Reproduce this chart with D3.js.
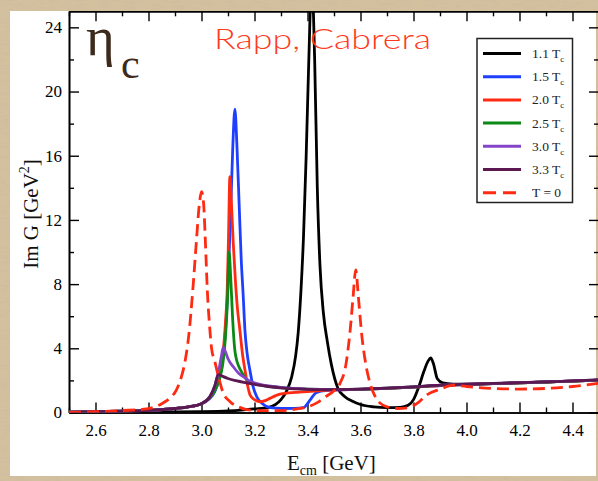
<!DOCTYPE html>
<html>
<head>
<meta charset="utf-8">
<script src="https://cdn.jsdelivr.net/npm/d3@7"></script>
<style>
  body { margin: 0; background: #fff; }
  svg { display: block; }
</style>
</head>
<body>
<div id="graph"></div>
<script>
// series: [E (GeV), Im G (GeV^2)]
var black11 = [[2.5,0.0],[2.7,0.01],[2.9,0.03],[3.0,0.05],[3.1,0.1],[3.15,0.15],[3.2,0.22],[3.25,0.3],[3.28,0.5],[3.3,0.8],
    [3.32,1.3],[3.34,2.2],[3.355,3.5],[3.365,5.0],[3.375,7.5],[3.385,11],[3.395,16],[3.405,22],[3.416,27],[3.427,22],
    [3.437,14],[3.447,9.2],[3.46,6.2],[3.475,4.4],[3.49,3.0],[3.515,1.5],[3.54,1.0],[3.57,0.7],[3.6,0.5],[3.65,0.35],
    [3.7,0.3],[3.75,0.32],[3.78,0.45],[3.8,0.8],[3.82,1.6],[3.84,2.6],[3.855,3.2],[3.865,3.4],[3.875,3.05],[3.89,2.1],
    [3.91,1.85],[3.95,1.77],[4.0,1.76],[4.1,1.8],[4.2,1.85],[4.3,1.9],[4.4,1.96],[4.5,2.02]];
var blue15 = [[2.5,0.02],[2.6,0.05],[2.7,0.08],[2.8,0.13],[2.9,0.25],[2.95,0.35],[3.0,0.55],[3.03,0.85],[3.05,1.3],[3.065,2.0],
    [3.08,3.2],[3.09,5.0],[3.1,8.0],[3.11,12.5],[3.118,16.5],[3.126,18.9],[3.134,16.5],[3.142,13.0],[3.15,9.5],[3.157,7.4],
    [3.164,5.1],[3.172,3.7],[3.183,2.6],[3.195,1.6],[3.208,1.0],[3.23,0.55],[3.26,0.3],[3.3,0.25],[3.35,0.26],[3.385,0.3],
    [3.4,0.55],[3.415,0.9],[3.43,1.2],[3.447,1.32],[3.5,1.4],[3.6,1.44],[3.7,1.5],[3.8,1.58],[3.9,1.68],[4.0,1.74],
    [4.1,1.8],[4.2,1.85],[4.3,1.9],[4.4,1.96],[4.5,2.02]];
var red20 = [[2.5,0.02],[2.6,0.05],[2.7,0.08],[2.8,0.13],[2.9,0.25],[2.95,0.35],[3.0,0.55],[3.03,0.9],[3.05,1.4],[3.065,2.2],
    [3.08,3.5],[3.09,5.5],[3.097,7.6],[3.102,11],[3.107,14.7],[3.113,13],[3.12,10.5],[3.128,8.2],[3.135,6.6],[3.145,5.1],
    [3.155,3.6],[3.164,2.65],[3.175,1.6],[3.183,1.1],[3.2,0.8],[3.22,0.67],[3.24,0.74],[3.258,0.88],[3.28,1.05],[3.296,1.15],
    [3.33,1.22],[3.36,1.26],[3.4,1.3],[3.45,1.36],[3.5,1.41],[3.6,1.44],[3.7,1.5],[3.8,1.58],[3.9,1.68],[4.0,1.74],
    [4.1,1.8],[4.2,1.85],[4.3,1.9],[4.4,1.96],[4.5,2.02]];
var green25 = [[2.5,0.02],[2.6,0.05],[2.7,0.08],[2.8,0.13],[2.9,0.25],[2.95,0.35],[3.0,0.55],[3.03,0.9],[3.05,1.35],[3.066,2.0],
    [3.08,3.0],[3.09,4.6],[3.098,7.0],[3.104,10.0],[3.11,8.5],[3.117,6.0],[3.125,4.0],[3.132,3.3],[3.14,2.9],[3.152,2.5],
    [3.17,2.05],[3.19,1.85],[3.22,1.72],[3.26,1.62],[3.3,1.55],[3.35,1.5],[3.4,1.45],[3.5,1.42],[3.6,1.45],[3.7,1.51],
    [3.8,1.59],[3.9,1.69],[4.0,1.75],[4.1,1.8],[4.2,1.85],[4.3,1.9],[4.4,1.96],[4.5,2.02]];
var purple30 = [[2.5,0.02],[2.6,0.05],[2.7,0.08],[2.8,0.13],[2.9,0.25],[2.95,0.35],[3.0,0.55],[3.032,1.0],[3.051,1.7],[3.065,2.6],
    [3.075,3.5],[3.082,4.05],[3.09,3.8],[3.1,3.35],[3.12,2.85],[3.14,2.45],[3.158,2.23],[3.183,1.95],[3.21,1.8],[3.233,1.71],
    [3.27,1.62],[3.3,1.56],[3.35,1.5],[3.4,1.46],[3.5,1.43],[3.6,1.46],[3.7,1.52],[3.8,1.6],[3.9,1.7],[4.0,1.76],
    [4.1,1.81],[4.2,1.86],[4.3,1.91],[4.4,1.97],[4.5,2.03]];
var maroon33 = [[2.5,0.02],[2.6,0.05],[2.7,0.08],[2.8,0.13],[2.9,0.25],[2.95,0.35],[3.0,0.55],[3.032,1.0],[3.051,1.7],[3.063,2.38],
    [3.08,2.25],[3.1,2.12],[3.13,1.98],[3.17,1.84],[3.21,1.72],[3.25,1.62],[3.296,1.53],[3.35,1.47],[3.447,1.42],[3.5,1.43],
    [3.6,1.46],[3.7,1.52],[3.8,1.6],[3.9,1.7],[4.0,1.76],[4.1,1.81],[4.2,1.86],[4.3,1.91],[4.4,1.97],[4.5,2.03]];
var dashT0 = [[2.5,0.0],[2.6,0.05],[2.7,0.12],[2.793,0.22],[2.85,0.55],[2.881,0.9],[2.905,1.4],[2.92,2.0],[2.938,3.2],[2.952,4.8],
    [2.967,7.6],[2.98,10.5],[2.992,13.0],[3.0,13.76],[3.008,13.0],[3.015,10.5],[3.022,7.6],[3.03,5.5],[3.038,4.0],[3.05,3.2],
    [3.063,2.3],[3.08,1.3],[3.108,0.67],[3.14,0.35],[3.17,0.18],[3.22,0.12],[3.3,0.12],[3.37,0.25],[3.41,0.4],[3.435,0.6],
    [3.47,1.0],[3.5,1.35],[3.523,1.83],[3.545,3.0],[3.56,4.95],[3.572,7.2],[3.582,8.88],[3.592,7.2],[3.604,4.95],[3.62,3.0],
    [3.636,1.83],[3.655,1.0],[3.673,0.6],[3.7,0.35],[3.74,0.25],[3.78,0.3],[3.82,0.65],[3.85,1.1],[3.9,1.45],[3.95,1.7],
    [4.0,1.62],[4.1,1.5],[4.2,1.46],[4.3,1.5],[4.4,1.62],[4.5,1.82]];

var seriesData = [black11, blue15, red20, green25, purple30, maroon33, dashT0];
var seriesNames = ["1.1", "1.5", "2.0", "2.5", "3.0", "3.3", "T = 0"];
var seriesColors = ["#000000", "#1f3fff", "#ff2a12", "#0a8a14", "#8444c8", "#5c1850", "#ff2a12"];
var seriesDashed = [false, false, false, false, false, false, true];

var xMajor = [2.6, 2.8, 3.0, 3.2, 3.4, 3.6, 3.8, 4.0, 4.2, 4.4];
var xMinor = [2.5, 2.7, 2.9, 3.1, 3.3, 3.5, 3.7, 3.9, 4.1, 4.3, 4.5];
var yMajor = [0, 4, 8, 12, 16, 20, 24];
var yMinor = [2, 6, 10, 14, 18, 22];

var W = 598, H = 481;
var x = d3.scaleLinear().domain([2.5, 4.5]).range([69, 599]);
var y = d3.scaleLinear().domain([0, 25]).range([412.5, 11.3]);
var serif = "'Liberation Serif', 'Times New Roman', serif";

var svg = d3.select("#graph").append("svg")
    .attr("width", W)
    .attr("height", H);

// cadre parchemin
var defs = svg.append("defs");
var filt = defs.append("filter").attr("id", "paper");
filt.append("feTurbulence").attr("type", "fractalNoise").attr("baseFrequency", "0.08 0.5")
    .attr("numOctaves", 3).attr("seed", 4).attr("result", "n");
filt.append("feColorMatrix").attr("in", "n").attr("type", "matrix")
    .attr("values", "0 0 0 0 0.62  0 0 0 0 0.5  0 0 0 0 0.34  0 0 0 -1.6 1.1").attr("result", "c");
filt.append("feComposite").attr("in", "c").attr("in2", "SourceGraphic").attr("operator", "atop");
defs.append("clipPath").attr("id", "plotclip").append("rect")
    .attr("x", x(2.5)).attr("y", y(25)).attr("width", x(4.5) - x(2.5)).attr("height", y(0) - y(25));

svg.append("rect").attr("width", W).attr("height", H).attr("fill", "#d3c19e").attr("filter", "url(#paper)");
svg.append("rect").attr("x", 10).attr("y", 11).attr("width", 586).attr("height", 465).attr("fill", "#fff");

// axes
function styleAxis(g) {
    g.attr("font-family", null).attr("font-size", null);
    g.selectAll("path").attr("stroke", "#000").attr("stroke-width", 1.6);
    g.selectAll("line").attr("stroke", "#000").attr("stroke-width", 1.4);
    g.selectAll("text").style("font-family", serif).style("font-size", "17px").attr("fill", "#000");
}
svg.append("g").attr("transform", "translate(0," + y(0) + ")")
    .call(d3.axisBottom(x).tickValues(xMajor).tickSize(-10).tickSizeOuter(0).tickPadding(11).tickFormat(d3.format(".1f")))
    .call(styleAxis);
svg.append("g").attr("transform", "translate(0," + y(0) + ")")
    .call(d3.axisBottom(x).tickValues(xMinor).tickSize(-5).tickSizeOuter(0).tickFormat(""))
    .call(styleAxis);
svg.append("g").attr("transform", "translate(0," + y(25) + ")")
    .call(d3.axisTop(x).tickValues(xMajor).tickSize(-10).tickSizeOuter(0).tickFormat(""))
    .call(styleAxis);
svg.append("g").attr("transform", "translate(0," + y(25) + ")")
    .call(d3.axisTop(x).tickValues(xMinor).tickSize(-5).tickSizeOuter(0).tickFormat(""))
    .call(styleAxis);
svg.append("g").attr("transform", "translate(" + x(2.5) + ",0)")
    .call(d3.axisLeft(y).tickValues(yMajor).tickSize(-10).tickSizeOuter(0).tickPadding(7))
    .call(styleAxis);
svg.append("g").attr("transform", "translate(" + x(2.5) + ",0)")
    .call(d3.axisLeft(y).tickValues(yMinor).tickSize(-5).tickSizeOuter(0).tickFormat(""))
    .call(styleAxis);
svg.append("g").attr("transform", "translate(" + x(4.5) + ",0)")
    .call(d3.axisRight(y).tickValues(yMajor).tickSize(-10).tickSizeOuter(0).tickFormat(""))
    .call(styleAxis);
svg.append("g").attr("transform", "translate(" + x(4.5) + ",0)")
    .call(d3.axisRight(y).tickValues(yMinor).tickSize(-5).tickSizeOuter(0).tickFormat(""))
    .call(styleAxis);

// courbes
var ligne = d3.line()
    .x(function(d) { return x(d[0]); })
    .y(function(d) { return y(d[1]); })
    .curve(d3.curveMonotoneX);
var plot = svg.append("g").attr("clip-path", "url(#plotclip)");
seriesData.forEach(function(s, i) {
    plot.append("path")
        .datum(s)
        .attr("fill", "none")
        .attr("stroke", seriesColors[i])
        .attr("stroke-width", 2.8)
        .attr("stroke-linejoin", "round")
        .attr("stroke-dasharray", seriesDashed[i] ? "12,6" : null)
        .attr("d", ligne);
});

// légende
var leg = svg.append("g");
leg.append("rect").attr("x", 477).attr("y", 38.5).attr("width", 95.5).attr("height", 164)
    .attr("fill", "#fff").attr("stroke", "#222").attr("stroke-width", 1.5);
seriesNames.forEach(function(n, i) {
    var ly = 53.5 + i * 23.2;
    leg.append("line").attr("x1", 483).attr("x2", 521).attr("y1", ly).attr("y2", ly)
        .attr("stroke", seriesColors[i]).attr("stroke-width", 3)
        .attr("stroke-dasharray", seriesDashed[i] ? "13,7" : null);
    var t = leg.append("text").attr("x", 532).attr("y", ly + 4.5)
        .attr("font-family", serif).attr("font-size", 13.5).attr("fill", "#222");
    if (seriesDashed[i]) {
        t.text(n);
    } else {
        t.append("tspan").text(n + " T");
        t.append("tspan").attr("font-size", 9).attr("dy", 4).text("c");
    }
});

// titres
var eta = svg.append("text").attr("x", 86).attr("y", 55).attr("font-family", serif).attr("fill", "#3c2b1c");
eta.append("tspan").attr("font-size", 55).text("\u03B7");
eta.append("tspan").attr("x", 121).attr("y", 78).attr("font-size", 42).text("c");

svg.append("text").attr("x", 214).attr("y", 48.5)
    .attr("font-family", "Lato, 'Open Sans', sans-serif").attr("font-size", 27).attr("font-weight", 300)
    .attr("fill", "#ff3a1c").attr("textLength", 217).attr("lengthAdjust", "spacingAndGlyphs")
    .text("Rapp, Cabrera");

var yl = svg.append("text").attr("transform", "translate(38,214) rotate(-90)")
    .attr("text-anchor", "middle").attr("font-family", serif).attr("font-size", 21).attr("fill", "#111");
yl.append("tspan").text("Im G [GeV");
yl.append("tspan").attr("font-size", 14).attr("dy", -9).text("2");
yl.append("tspan").attr("dy", 9).text("]");

var xl = svg.append("text").attr("x", 287).attr("y", 470)
    .attr("font-family", serif).attr("font-size", 21).attr("fill", "#111");
xl.append("tspan").text("E");
xl.append("tspan").attr("font-size", 14).attr("dy", 5).text("cm");
xl.append("tspan").attr("dy", -5).text(" [GeV]");
</script>
</body>
</html>
